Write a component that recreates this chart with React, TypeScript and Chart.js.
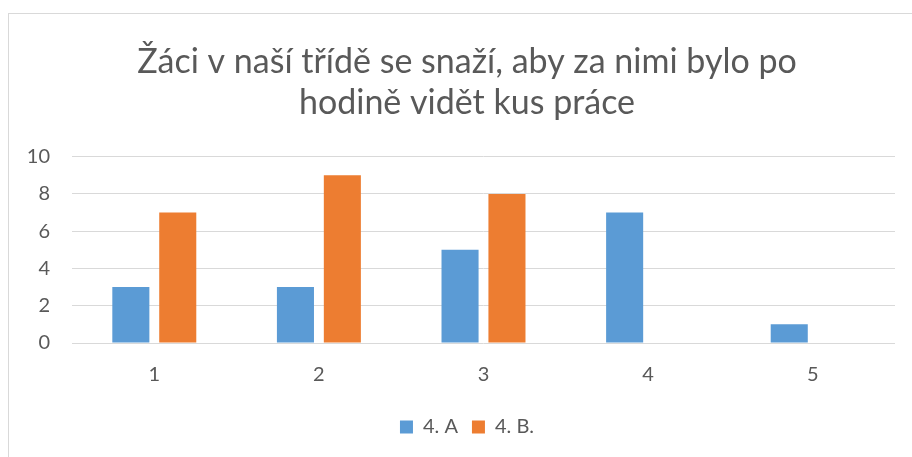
import React, { useEffect, useRef } from "react";
import { Chart, registerables } from "chart.js";

Chart.register(...registerables);

const categories = ["1", "2", "3", "4", "5"];
const seriesA = [3, 3, 5, 7, 1];
const seriesB = [7, 9, 8, 0, 0];
const seriesNames = ["4. A", "4. B."];
const titleLines = ["Žáci v naší třídě se snaží, aby za nimi bylo po", "hodině vidět kus práce"];

const FONT = "Lato, 'Liberation Sans', sans-serif";
const TEXT = "#595959";

export default function App() {
  const ref = useRef<HTMLCanvasElement>(null);
  useEffect(() => {
    if (!ref.current) return;
    const chart = new Chart(ref.current, {
      type: "bar",
      data: {
        labels: categories,
        datasets: [
          { label: seriesNames[0], data: seriesA, backgroundColor: "#5b9bd5", categoryPercentage: 0.57, barPercentage: 0.79 },
          { label: seriesNames[1], data: seriesB, backgroundColor: "#ed7d31", categoryPercentage: 0.57, barPercentage: 0.79 },
        ],
      },
      options: {
        animation: false,
        responsive: false,
        maintainAspectRatio: false,
        layout: { padding: { left: 0, right: 14, top: 0, bottom: 11 } },
        plugins: {
          title: {
            display: true,
            text: titleLines,
            color: TEXT,
            font: { family: FONT, size: 34, weight: "normal", lineHeight: 1.2 },
            padding: { top: 28, bottom: 33 },
          },
          legend: {
            position: "bottom",
            labels: {
              color: TEXT,
              font: { family: FONT, size: 20 },
              boxWidth: 13,
              boxHeight: 13,
              padding: 14,
            },
          },
          tooltip: { enabled: false },
        },
        scales: {
          x: {
            grid: { display: false },
            border: { display: false },
            ticks: { color: TEXT, font: { family: FONT, size: 20 }, padding: 12 },
            afterFit: (s: any) => { s.height += 4; },
          },
          y: {
            min: 0,
            max: 10,
            ticks: { stepSize: 2, color: TEXT, font: { family: FONT, size: 20 }, padding: 22 },
            grid: { color: "#d9d9d9", drawTicks: false, lineWidth: 1 },
            border: { display: false },
            afterFit: (s: any) => { s.width = 63; },
          },
          spacer: {
            type: "linear",
            position: "right",
            display: true,
            min: 0,
            max: 10,
            grid: { display: false, drawTicks: false },
            border: { display: false },
            ticks: { display: false },
            afterFit: (s: any) => { s.width = 30; },
          },
        },
      },
    });
    return () => chart.destroy();
  }, []);
  return (
    <div style={{ position: "fixed", inset: 0, overflow: "hidden", background: "#fff" }}>
      <div style={{ position: "absolute", left: 8, top: 13, width: 1000, height: 600, border: "1px solid #d9d9d9" }}>
        <canvas ref={ref} width={930} height={444} style={{ display: "block", width: 930, height: 444 }} />
      </div>
    </div>
  );
}
